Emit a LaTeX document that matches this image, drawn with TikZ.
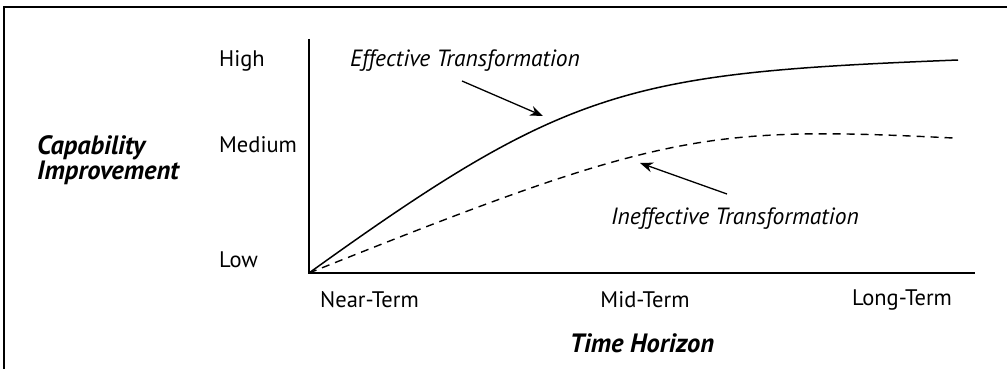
\documentclass[tikz,border=0pt]{standalone}
\usepackage{fontspec}
\setmainfont{PT Sans}
\usetikzlibrary{arrows.meta,positioning,calc}

\tikzset{
  lbl/.style={font=\fontsize{22.5}{26}\selectfont, inner sep=0pt},
  curvelbl/.style={font=\fontsize{23.5}{28}\selectfont\itshape, inner sep=0pt},
  axistitle/.style={font=\fontsize{26.5}{25}\selectfont\bfseries\itshape, inner sep=0pt, align=left},
  pointer/.style={line width=1.3pt, -{Stealth[length=13pt,width=10pt]}},
}

\begin{document}
\begin{tikzpicture}[x=1pt,y=-1pt]
\useasboundingbox (0,0) rectangle (1007,369);

% Frame
\draw[line width=1.6pt] (4,400) -- (4,7) -- (1040,7);

% Axes
\coordinate (origin) at (309,273);
\coordinate (ytop) at (309,39);
\coordinate (xend) at (975,273);
\draw[line width=1.6pt] (ytop) -- (origin) -- (xend);

% Level labels
\node[lbl, anchor=west] (high) at (219,61) {High};
\node[lbl, anchor=west] (medium) at (219,145) {Medium};
\node[lbl, anchor=west] (low) at (219,260) {Low};
\node[axistitle, anchor=west] (ylabel) at (37,160) {Capability\\Improvement};

% Time labels
\node[lbl, anchor=west] (near) at (320,300) {Near-Term};
\node[lbl] (mid) at (645,300) {Mid-Term};
\node[lbl] (long) at (902,300) {Long-Term};
\node[axistitle] (xlabel) at (642,343) {Time Horizon};

% Curves
\draw[line width=1.5pt] (origin) .. controls (569,86) and (628,73) .. (958,60);
\draw[line width=1.4pt, dash pattern=on 8pt off 6pt] (origin) .. controls (659,133) and (703,125.5) .. (953,138);

% Curve labels
\node[curvelbl] (eff) at (465,61) {Effective Transformation};
\node[curvelbl] (ineff) at (735,219) {Ineffective Transformation};
\coordinate (effTail) at (462,81);
\coordinate (effTip) at (543,116);
\coordinate (ineffTail) at (727,194);
\coordinate (ineffTip) at (640,163);
\draw[pointer] (effTail) -- (effTip);
\draw[pointer] (ineffTail) -- (ineffTip);

\end{tikzpicture}
\end{document}
